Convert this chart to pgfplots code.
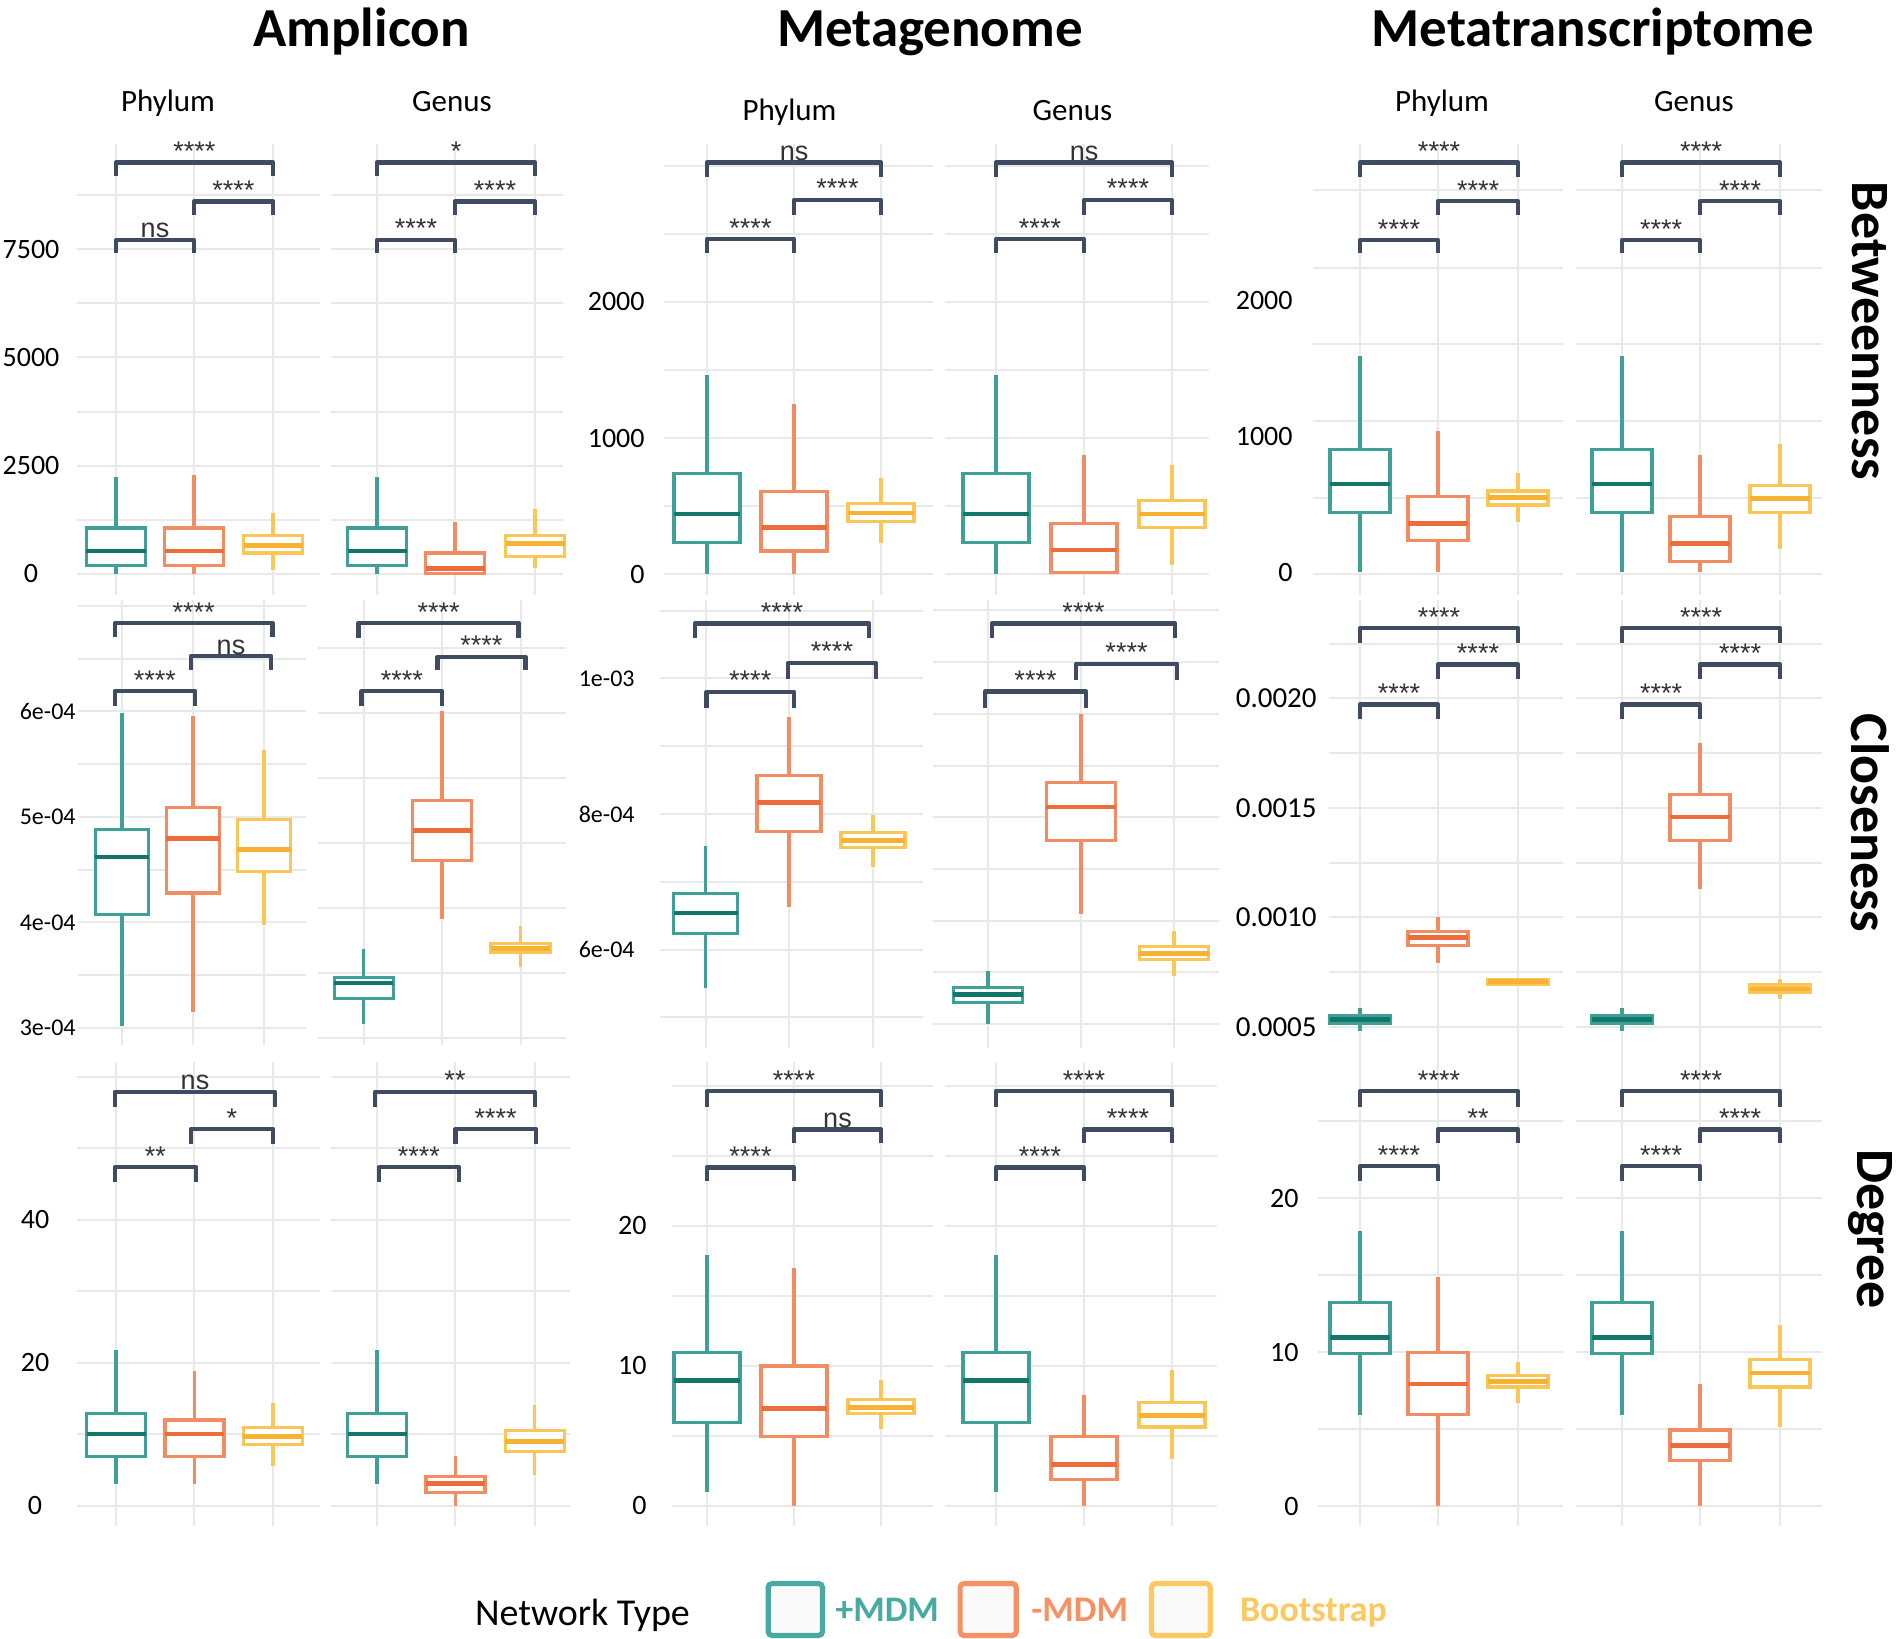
\documentclass[border=0pt]{standalone}
\usepackage{fontspec}
\setmainfont{Carlito}
\newfontfamily\sigfont{Liberation Sans}
\usepackage{pgfplots}
\pgfplotsset{compat=1.18}
\usepgfplotslibrary{statistics}
\usetikzlibrary{calc}

\definecolor{cA}{RGB}{62,160,150}
\definecolor{cAd}{RGB}{18,118,106}
\definecolor{cB}{RGB}{242,140,98}
\definecolor{cBd}{RGB}{236,108,58}
\definecolor{cC}{RGB}{251,198,88}
\definecolor{cCd}{RGB}{247,178,52}
\definecolor{brk}{RGB}{62,75,96}
\definecolor{grd}{RGB}{233,233,233}
\definecolor{legA}{RGB}{72,170,160}
\definecolor{legB}{RGB}{245,145,100}
\definecolor{legC}{RGB}{252,200,96}

\pgfplotsset{
  pan/.style={scale only axis, anchor=south west, clip=false,
    axis line style={draw=none}, tick style={draw=none}, major tick length=0pt,
    xmajorgrids, ymajorgrids, major grid style={draw=grd, line width=1pt},
    xticklabels={},
    yticklabel style={font=\fontsize{14}{14}\selectfont, inner sep=0pt},
    boxplot/draw direction=y},
}
\tikzset{
  brkl/.style={draw=brk, line width=2.3pt, line join=round},
  sig/.style={font=\sigfont\fontsize{13.5}{13.5}\selectfont, text=black!80,
    anchor=base, inner sep=0pt, yshift=1pt},
}

% position, box width, lower whisker, q1, median, q3, upper whisker
\newcommand{\bxA}[7]{\addplot[draw=cA, fill=white, line width=1.6pt,
  boxplot prepared={draw position=#1, box extend=#2, lower whisker=#3,
  lower quartile=#4, median=#5, upper quartile=#6, upper whisker=#7,
  whisker extend=0, every median/.style={draw=cAd, line width=2.3pt}}] coordinates {};}
\newcommand{\bxB}[7]{\addplot[draw=cB, fill=white, line width=1.6pt,
  boxplot prepared={draw position=#1, box extend=#2, lower whisker=#3,
  lower quartile=#4, median=#5, upper quartile=#6, upper whisker=#7,
  whisker extend=0, every median/.style={draw=cBd, line width=2.3pt}}] coordinates {};}
\newcommand{\bxC}[7]{\addplot[draw=cC, fill=white, line width=1.6pt,
  boxplot prepared={draw position=#1, box extend=#2, lower whisker=#3,
  lower quartile=#4, median=#5, upper quartile=#6, upper whisker=#7,
  whisker extend=0, every median/.style={draw=cCd, line width=2.3pt}}] coordinates {};}
% x1, x2, bracket height, tick end, label
\newcommand{\brk}[5]{\draw[brkl] (axis cs:#1,#4) -- (axis cs:#1,#3) -- (axis cs:#2,#3) -- (axis cs:#2,#4);
  \node[sig] at ($(axis cs:#1,#3)!0.5!(axis cs:#2,#3)$) {#5};}

\begin{document}
\begin{tikzpicture}
\path[use as bounding box] (0,0) rectangle (951pt,-819.5pt);

%%%%%%%%%%%%%%%% Row 1: Betweenness
\begin{axis}[pan, at={(38.5pt,-297.5pt)}, width=121.5pt, height=225.75pt,
  xmin=77, xmax=320, ymin=-485, ymax=9936, xtick={116,194,273},
  ytick={0,1250,...,8750}, yticklabels={0,{},2500,{},5000,{},7500,{}},
  yticklabel style={anchor=center, xshift=-23pt}]
\bxA{116}{59}{0}{193}{530}{1060}{2250}
\bxB{194}{59}{0}{193}{530}{1060}{2296}
\bxC{273}{59}{90}{485}{662}{882}{1410}
\brk{116}{273}{9495}{9185}{****}
\brk{194}{273}{8593}{8275}{****}
\brk{116}{194}{7709}{7400}{ns}
\end{axis}
\begin{axis}[pan, at={(165.5pt,-297.5pt)}, width=116pt, height=225.75pt,
  xmin=331, xmax=563, ymin=-485, ymax=9936, xtick={377,455,535},
  ytick={0,1250,...,8750}, yticklabels={}]
\bxA{377}{59}{0}{193}{530}{1060}{2250}
\bxB{455}{59}{0}{15}{130}{485}{1190}
\bxC{535}{59}{130}{397}{706}{882}{1500}
\brk{377}{535}{9495}{9185}{*}
\brk{455}{535}{8593}{8275}{****}
\brk{377}{455}{7709}{7400}{****}
\end{axis}
\begin{axis}[pan, at={(332pt,-297.5pt)}, width=134.5pt, height=225.75pt,
  xmin=664, xmax=933, ymin=-154, ymax=3165, xtick={707,794,881},
  ytick={0,500,...,3000}, yticklabels={0,{},1000,{},2000,{},{}},
  yticklabel style={anchor=east, xshift=-9.5pt}]
\bxA{707}{66}{0}{233}{441}{737}{1463}
\bxB{794}{66}{0}{169}{343}{604}{1252}
\bxC{881}{66}{225}{388}{450}{520}{703}
\brk{707}{881}{3025}{2920}{ns}
\brk{794}{881}{2750}{2640}{****}
\brk{707}{794}{2463}{2360}{****}
\end{axis}
\begin{axis}[pan, at={(472.5pt,-297.5pt)}, width=132pt, height=225.75pt,
  xmin=945, xmax=1209, ymin=-154, ymax=3165, xtick={996,1084,1172},
  ytick={0,500,...,3000}, yticklabels={}]
\bxA{996}{66}{0}{233}{441}{737}{1463}
\bxB{1084}{66}{0}{14}{176}{371}{877}
\bxC{1172}{66}{70}{343}{441}{543}{801}
\brk{996}{1172}{3025}{2920}{ns}
\brk{1084}{1172}{2750}{2640}{****}
\brk{996}{1084}{2463}{2360}{****}
\end{axis}
\begin{axis}[pan, at={(656.5pt,-297.5pt)}, width=125pt, height=225.75pt,
  xmin=1313, xmax=1563, ymin=-169, ymax=3151, xtick={1360,1438,1518},
  ytick={-15,548,1110,1676,2235,2809}, yticklabels={},
  extra y ticks={0,1000,2000}, extra y tick labels={0,1000,2000},
  extra y tick style={grid=none},
  yticklabel style={anchor=east, xshift=-10pt}]
\bxA{1360}{60}{0}{435}{647}{899}{1588}
\bxB{1438}{60}{0}{229}{357}{554}{1040}
\bxC{1518}{60}{365}{493}{548}{596}{731}
\brk{1360}{1518}{3010}{2906}{****}
\brk{1438}{1518}{2728}{2625}{****}
\brk{1360}{1438}{2441}{2343}{****}
\end{axis}
\begin{axis}[pan, at={(788pt,-297.5pt)}, width=123pt, height=225.75pt,
  xmin=1576, xmax=1822, ymin=-169, ymax=3151, xtick={1622,1700,1780},
  ytick={-15,548,1110,1676,2235,2809}, yticklabels={}]
\bxA{1622}{60}{0}{435}{647}{899}{1588}
\bxB{1700}{60}{0}{75}{210}{407}{857}
\bxC{1780}{60}{169}{435}{539}{637}{941}
\brk{1622}{1780}{3010}{2906}{****}
\brk{1700}{1780}{2728}{2625}{****}
\brk{1622}{1700}{2441}{2343}{****}
\end{axis}

%%%%%%%%%%%%%%%% Row 2: Closeness (values in 1e-04)
\begin{axis}[pan, at={(39pt,-522.5pt)}, width=114pt, height=222.5pt,
  xmin=78, xmax=306, ymin=2.837, ymax=7.055, xtick={122,193,264},
  ytick={3,3.5,...,7}, yticklabels={3e-04,{},4e-04,{},5e-04,{},6e-04,{},{}},
  yticklabel style={font=\fontsize{12}{12}\selectfont, anchor=east, xshift=-1pt}]
\bxA{122}{53.5}{3.016}{4.076}{4.618}{4.877}{5.984}
\bxB{193}{53.5}{3.154}{4.277}{4.797}{5.087}{5.952}
\bxC{264}{53.5}{3.973}{4.484}{4.691}{4.973}{5.633}
\brk{115}{272.5}{6.836}{6.702}{****}
\brk{191}{271}{6.523}{6.390}{ns}
\brk{115}{195}{6.191}{6.047}{****}
\end{axis}
\begin{axis}[pan, at={(159pt,-522.5pt)}, width=124pt, height=222.5pt,
  xmin=318, xmax=566, ymin=3.446, ymax=6.869, xtick={363.6,442,520.5},
  ytick={3.5,4,...,6.5}, yticklabels={}]
\bxA{363.6}{59}{3.605}{3.804}{3.923}{3.967}{4.187}
\bxB{442}{59}{4.412}{4.865}{5.094}{5.327}{6.013}
\bxC{520.5}{59}{4.045}{4.162}{4.187}{4.226}{4.361}
\brk{358.6}{518.6}{6.692}{6.577}{****}
\brk{437.4}{525.4}{6.432}{6.329}{****}
\brk{361.6}{442}{6.168}{6.052}{****}
\end{axis}
\begin{axis}[pan, at={(330pt,-524pt)}, width=131.5pt, height=224pt,
  xmin=660, xmax=923, ymin=4.547, ymax=11.155, xtick={705.7,789,873},
  ytick={5,6,...,11}, yticklabels={{},6e-04,{},8e-04,{},1e-03,{}},
  yticklabel style={font=\fontsize{12}{12}\selectfont, anchor=east, xshift=-12.5pt}]
\bxA{705.7}{64}{5.425}{6.235}{6.540}{6.825}{7.525}
\bxB{789}{64}{6.625}{7.740}{8.165}{8.565}{9.425}
\bxC{873}{64}{7.210}{7.500}{7.610}{7.725}{7.985}
\brk{695}{869}{10.81}{10.59}{****}
\brk{788}{876}{10.226}{9.99}{****}
\brk{706.5}{794}{9.80}{9.569}{****}
\end{axis}
\begin{axis}[pan, at={(466.5pt,-524pt)}, width=143pt, height=224pt,
  xmin=933, xmax=1219, ymin=3.54, ymax=12.2, xtick={988,1081,1174},
  ytick={4,5,...,12}, yticklabels={}]
\bxA{988}{69.5}{4.0}{4.427}{4.578}{4.703}{5.037}
\bxB{1081}{69.5}{6.13}{7.555}{8.197}{8.669}{10.0}
\bxC{1174}{69.5}{4.932}{5.246}{5.363}{5.495}{5.805}
\brk{992}{1175}{11.75}{11.462}{****}
\brk{1076}{1177}{10.965}{10.656}{****}
\brk{985}{1086}{10.426}{10.118}{****}
\end{axis}
\begin{axis}[pan, at={(664.5pt,-531pt)}, width=117pt, height=231pt,
  xmin=1329, xmax=1563, ymin=3.39, ymax=24.5, xtick={1360,1438,1518},
  ytick={5,7.5,...,22.5}, yticklabels={0.0005,{},0.0010,{},0.0015,{},0.0020,{}},
  yticklabel style={font=\fontsize{14.5}{14.5}\selectfont, anchor=east, xshift=-6pt}]
\bxA{1360}{60}{4.79}{5.16}{5.34}{5.51}{5.87}
\bxB{1438}{60}{7.91}{8.72}{9.08}{9.34}{10.0}
\bxC{1518}{60}{6.87}{6.95}{7.06}{7.17}{7.23}
\brk{1360}{1518}{23.22}{22.555}{****}
\brk{1438}{1518}{21.55}{20.896}{****}
\brk{1360}{1438}{19.72}{19.07}{****}
\end{axis}
\begin{axis}[pan, at={(788pt,-531pt)}, width=123pt, height=231pt,
  xmin=1576, xmax=1822, ymin=3.39, ymax=24.5, xtick={1622,1700,1780},
  ytick={5,7.5,...,22.5}, yticklabels={}]
\bxA{1622}{60}{4.79}{5.16}{5.34}{5.51}{5.87}
\bxB{1700}{60}{11.29}{13.52}{14.58}{15.63}{17.98}
\bxC{1780}{60}{6.29}{6.55}{6.72}{6.91}{7.17}
\brk{1622}{1780}{23.22}{22.555}{****}
\brk{1700}{1780}{21.55}{20.896}{****}
\brk{1622}{1700}{19.72}{19.07}{****}
\end{axis}

%%%%%%%%%%%%%%%% Row 3: Degree
\begin{axis}[pan, at={(38.25pt,-762.75pt)}, width=121.75pt, height=231.75pt,
  xmin=76.5, xmax=320, ymin=-2.797, ymax=62.03, xtick={116,194.4,272.9},
  ytick={0,10,...,60}, yticklabels={0,{},20,{},40,{},{}},
  yticklabel style={anchor=center, xshift=-20.75pt}]
\bxA{116}{59}{2.98}{6.91}{10.0}{12.92}{21.8}
\bxB{194.4}{59}{2.98}{6.91}{10.0}{11.96}{18.77}
\bxC{272.9}{59}{5.48}{8.56}{9.62}{10.9}{14.35}
\brk{115}{275}{57.86}{55.73}{ns}
\brk{191}{273}{52.66}{50.52}{*}
\brk{115}{196}{47.33}{45.2}{**}
\end{axis}
\begin{axis}[pan, at={(165.5pt,-762.75pt)}, width=119.5pt, height=231.75pt,
  xmin=331, xmax=570, ymin=-2.797, ymax=62.03, xtick={377,455.4,534.6},
  ytick={0,10,...,60}, yticklabels={}]
\bxA{377}{59}{2.98}{6.91}{10.0}{12.92}{21.8}
\bxB{455.4}{59}{0}{1.86}{3.08}{4.04}{6.91}
\bxC{534.6}{59}{4.28}{7.58}{8.94}{10.5}{14.0}
\brk{375}{535}{57.86}{55.73}{**}
\brk{455.4}{535.8}{52.66}{50.52}{****}
\brk{379}{459}{47.33}{45.2}{****}
\end{axis}
\begin{axis}[pan, at={(336pt,-762.75pt)}, width=130.5pt, height=231.75pt,
  xmin=672, xmax=933, ymin=-1.41, ymax=31.7, xtick={707,794,881},
  ytick={0,5,...,30}, yticklabels={0,{},10,{},20,{},{}},
  yticklabel style={anchor=east, xshift=-12.5pt}]
\bxA{707}{66}{0.95}{5.96}{8.95}{10.94}{17.92}
\bxB{794}{66}{0}{4.95}{6.94}{9.98}{17.0}
\bxC{881}{66}{5.49}{6.58}{7.04}{7.59}{8.95}
\brk{707}{881}{29.62}{28.48}{****}
\brk{794}{881}{26.9}{25.89}{ns}
\brk{707}{794}{24.18}{23.17}{****}
\end{axis}
\begin{axis}[pan, at={(472.5pt,-762.75pt)}, width=136pt, height=231.75pt,
  xmin=945, xmax=1217, ymin=-1.41, ymax=31.7, xtick={996,1084,1172},
  ytick={0,5,...,30}, yticklabels={}]
\bxA{996}{66}{0.95}{5.96}{8.95}{10.94}{17.92}
\bxB{1084}{66}{0}{1.9}{2.96}{4.95}{7.94}
\bxC{1172}{66}{3.31}{5.63}{6.44}{7.4}{9.71}
\brk{996}{1172}{29.62}{28.48}{****}
\brk{1084}{1172}{26.9}{25.89}{****}
\brk{996}{1084}{24.18}{23.17}{****}
\end{axis}
\begin{axis}[pan, at={(659pt,-762.75pt)}, width=122.5pt, height=231.75pt,
  xmin=1318, xmax=1563, ymin=-1.25, ymax=28.83, xtick={1360,1438,1518},
  ytick={0,5,...,25}, yticklabels={0,{},10,{},20,{}},
  yticklabel style={anchor=east, xshift=-9.5pt}]
\bxA{1360}{60}{5.93}{9.91}{10.95}{13.22}{17.87}
\bxB{1438}{60}{0}{5.93}{7.93}{9.96}{14.9}
\bxC{1518}{60}{6.67}{7.74}{8.1}{8.47}{9.39}
\brk{1360}{1518}{26.94}{25.9}{****}
\brk{1438}{1518}{24.46}{23.55}{**}
\brk{1360}{1438}{22.07}{21.08}{****}
\end{axis}
\begin{axis}[pan, at={(788pt,-762.75pt)}, width=123pt, height=231.75pt,
  xmin=1576, xmax=1822, ymin=-1.25, ymax=28.83, xtick={1622,1700,1780},
  ytick={0,5,...,25}, yticklabels={}]
\bxA{1622}{60}{5.93}{9.91}{10.95}{13.22}{17.87}
\bxB{1700}{60}{0}{2.97}{3.96}{4.95}{7.91}
\bxC{1780}{60}{5.14}{7.74}{8.65}{9.54}{11.77}
\brk{1622}{1780}{26.94}{25.9}{****}
\brk{1700}{1780}{24.46}{23.55}{****}
\brk{1622}{1700}{22.07}{21.08}{****}
\end{axis}

%%%%%%%%%%%%%%%% titles, strips, row labels, legend (pixel grid)
\begin{scope}[x=0.5pt, y=-0.5pt]
\tikzset{ttl/.style={anchor=base, inner sep=0pt, font=\bfseries\fontsize{27.5}{27.5}\selectfont},
  strip/.style={anchor=base, inner sep=0pt, font=\fontsize{15.5}{15.5}\selectfont},
  rowl/.style={rotate=-90, inner sep=0pt, font=\bfseries\fontsize{27}{27}\selectfont}}
\node[ttl] at (361.6,46) {Amplicon};
\node[ttl] at (930,46.7) {Metagenome};
\node[ttl] at (1593,46) {Metatranscriptome};
\node[strip] at (168,111) {Phylum};
\node[strip] at (452,111) {Genus};
\node[strip] at (789.5,120.6) {Phylum};
\node[strip] at (1072.5,120.6) {Genus};
\node[strip] at (1442,111) {Phylum};
\node[strip] at (1694,111) {Genus};
\node[rowl] at (1870,331) {Betweenness};
\node[rowl] at (1870,823) {Closeness};
\node[rowl] at (1870,1229) {Degree};

\node[anchor=base west, inner sep=0pt, font=\fontsize{19}{19}\selectfont] at (474.6,1625.8) {Network Type};
\draw[draw=legA, line width=2.6pt, fill=gray!4, rounded corners=2pt] (768.2,1583.5) rectangle (822.5,1635.5);
\draw[draw=legB, line width=2.6pt, fill=gray!4, rounded corners=2pt] (960.1,1583.5) rectangle (1016.3,1635.5);
\draw[draw=legC, line width=2.6pt, fill=gray!4, rounded corners=2pt] (1151.5,1583.5) rectangle (1210.2,1635.5);
\node[anchor=base west, inner sep=0pt, text=legA, font=\bfseries\fontsize{18}{18}\selectfont] at (835,1621) {+MDM};
\node[anchor=base west, inner sep=0pt, text=legB, font=\bfseries\fontsize{18}{18}\selectfont] at (1031,1621) {-MDM};
\node[anchor=base west, inner sep=0pt, text=legC, font=\bfseries\fontsize{18}{18}\selectfont] at (1239.6,1621) {Bootstrap};
\end{scope}
\end{tikzpicture}
\end{document}
